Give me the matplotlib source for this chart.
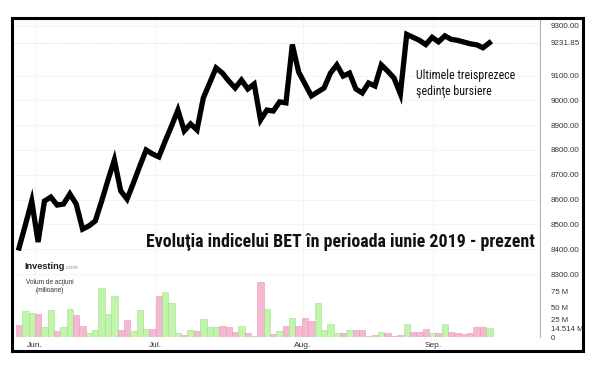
import numpy as np
import matplotlib
matplotlib.use("Agg")
import matplotlib.pyplot as plt
from matplotlib.patches import Rectangle
from matplotlib.transforms import ScaledTranslation

# BET index closes, June - mid September 2019
prices = [8405, 8498, 8594, 8429, 8594, 8610, 8578, 8582, 8623, 8582,
          8481, 8494, 8514, 8594, 8679, 8760, 8635, 8602, 8667, 8735,
          8800, 8784, 8772, 8836, 8897, 8961, 8877, 8905, 8881, 9010,
          9070, 9131, 9110, 9078, 9050, 9082, 9046, 9066, 8921, 8961,
          8957, 8994, 8990, 9225, 9114, 9066, 9018, 9034, 9050, 9110,
          9143, 9098, 9110, 9046, 9030, 9070, 9058, 9143, 9118, 9090,
          9026, 9266, 9254, 9242, 9225, 9254, 9236, 9260, 9246, 9242,
          9235, 9228, 9224, 9212, 9231.85]

# traded volume, millions of shares
volumes = [20, 44, 40, 38, 17, 45, 10, 17, 47, 37,
           19, 7, 11, 81, 38, 69, 11, 28, 10, 45,
           14, 13, 69, 75, 57, 7, 3, 11, 10, 30,
           17, 16, 19, 16, 9, 18, 7, 1, 91, 47,
           5, 10, 19, 31, 19, 31, 26, 57, 12, 21,
           7, 7, 12, 11, 11, 1, 3, 9, 7, 2,
           3, 21, 9, 9, 14, 7, 7, 21, 9, 7,
           5, 7, 17, 17, 14.514]

month_labels = ["Jun.", "Jul.", "Aug.", "Sep."]
month_pos = [2.5, 21.4, 44.7, 65.1]

price_ticks = [8300, 8400, 8500, 8600, 8700, 8800, 8900, 9000, 9100, 9231.85, 9300]
vol_ticks = [0, 14.514, 25, 50, 75]
vol_tick_labels = ["0", "14.514 M", "25 M", "50 M", "75 M"]

last_close = 9231.85

plt.rcParams["font.family"] = ["Liberation Sans", "DejaVu Sans"]
narrow = ["Roboto Condensed", "Liberation Sans Narrow", "DejaVu Sans"]

x = np.arange(len(prices))
up = np.diff(prices, prepend=prices[0] + 1) >= 0
bar_colors = ["#c2f5ac" if u else "#f5b8cf" for u in up]
edge_colors = ["#a3dc8c" if u else "#e39ab6" for u in up]

fig = plt.figure(figsize=(6, 3.7), dpi=100)
ax = fig.add_axes([14 / 600, 1 - 277 / 370, 526 / 600, 258 / 370])
axv = fig.add_axes([14 / 600, 1 - 337 / 370, 526 / 600, 60 / 370])

xlim = (-0.79, 81.97)

# price panel
ax.plot(x, prices, color="black", lw=3.8, solid_joinstyle="miter", zorder=3)
ax.axhline(last_close, color="#9a9a9a", lw=0.6, ls=(0, (2, 1.5)), zorder=1)
ax.set_xlim(*xlim)
ax.set_ylim(8288, 9328)
ax.yaxis.tick_right()
ax.set_yticks(price_ticks)
ax.set_yticklabels([f"{t:.2f}" for t in price_ticks])
ax.tick_params(axis="y", length=0, pad=8, labelsize=5.8, labelcolor="#333333")
ax.set_xticks(month_pos)
ax.tick_params(axis="x", length=0, labelbottom=False)
ax.grid(True, color="#f3f3f3", lw=0.6)
for s in ["top", "left"]:
    ax.spines[s].set_visible(False)
ax.spines["right"].set_color("#b0b0b0")
ax.spines["bottom"].set_color("#c0c0c0")
ax.spines["right"].set_linewidth(0.8)
ax.spines["bottom"].set_linewidth(0.8)

title = ax.text(0.2505, 0.135, "Evoluţia indicelui BET în perioada iunie 2019 - prezent",
                transform=ax.transAxes, fontsize=13.4, fontweight="bold",
                family=narrow, fontstretch="condensed",
                ha="left", va="center", color="#111111")
note = ax.text(0.764, 0.75, "Ultimele treisprezece\nşedinţe bursiere",
               transform=ax.transAxes, fontsize=9.2, linespacing=1.4,
               family=narrow, fontstretch="condensed",
               ha="left", va="center", color="#111111")
ax.text(0.019, 0.04, "Investing", transform=ax.transAxes, fontsize=6.6,
        fontweight="bold", color="#1a1a1a", ha="left", va="center")
ax.text(0.096, 0.036, ".com", transform=ax.transAxes, fontsize=4.6,
        color="#9a9a9a", ha="left", va="center")

# volume panel
axv.bar(x, volumes, width=1.0, color=bar_colors, edgecolor=edge_colors, linewidth=0.4)
axv.set_xlim(*xlim)
axv.set_ylim(0, 100)
axv.yaxis.tick_right()
axv.set_yticks(vol_ticks)
axv.set_yticklabels(vol_tick_labels)
axv.tick_params(axis="y", length=0, pad=8, labelsize=5.6, labelcolor="#333333")
axv.set_xticks(month_pos)
axv.set_xticklabels(month_labels)
axv.tick_params(axis="x", length=0, pad=3.5, labelsize=6, labelcolor="#333333")
axv.grid(True, axis="x", color="#f3f3f3", lw=0.6)
axv.set_axisbelow(True)
for s in ["top", "left", "bottom"]:
    axv.spines[s].set_visible(False)
axv.spines["right"].set_color("#b0b0b0")
axv.spines["right"].set_linewidth(0.8)
axv.text(0.068, 0.96, "Volum de acţiuni\n(milioane)", transform=axv.transAxes,
         fontsize=4.7, color="#333333", ha="center", va="top", linespacing=1.1)

# nudge the crowded volume labels apart, like the original
yt = axv.yaxis.get_major_ticks()
yt[2].label2.set_transform(yt[2].label2.get_transform()
                           + ScaledTranslation(0, 1.5 / 72, fig.dpi_scale_trans))
yt[0].label2.set_transform(yt[0].label2.get_transform()
                           + ScaledTranslation(0, -0.5 / 72, fig.dpi_scale_trans))

# fit the condensed captions to the width they take in the original
fig.canvas.draw()
r = fig.canvas.get_renderer()
for t, target in [(title, 388), (note, 99)]:
    w = t.get_window_extent(r).width
    t.set_fontsize(t.get_fontsize() * target / w)

# outer frame
fig.add_artist(Rectangle((12 / 600, 1 - 351 / 370), 571 / 600, 333 / 370,
                         transform=fig.transFigure, fill=False,
                         edgecolor="black", lw=2.2))

fig.savefig("out.png", dpi=100, facecolor="white")
